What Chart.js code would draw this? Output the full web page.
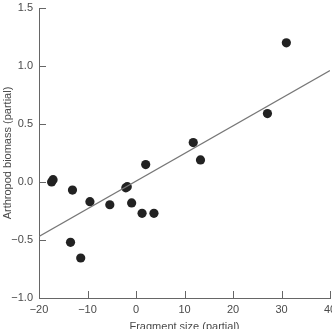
<!DOCTYPE html>
<html><head><meta charset="utf-8">
<script src="https://cdn.jsdelivr.net/npm/chart.js@4.4.1/dist/chart.umd.min.js"></script>
<style>html,body{margin:0;padding:0;overflow:hidden;background:#fff;width:332px;height:329px}canvas{display:block}</style>
</head><body><canvas id="c" width="345" height="334" style="width:345px;height:334px"></canvas>
<script>
const fragmentSize = [-17.4, -17.1, -13.1, -13.5, -11.4, -9.5, -5.4, -2.1, -1.8, -0.9, 1.25, 2.0, 3.7, 11.8, 13.3, 27.1, 31.0];
const arthropodBiomass = [0.0, 0.02, -0.07, -0.52, -0.655, -0.17, -0.196, -0.05, -0.04, -0.18, -0.27, 0.15, -0.27, 0.34, 0.19, 0.59, 1.2];
const fitLineX = [-20, 40];
const fitLineY = [-0.47, 0.96];
const xTicks = [-20, -10, 0, 10, 20, 30, 40];
const yTicks = [-1.0, -0.5, 0.0, 0.5, 1.0, 1.5];
const xTitle = 'Fragment size (partial)';
const yTitle = 'Arthropod biomass (partial)';

const FONT = {family: '"Liberation Sans", Arial, Helvetica, sans-serif', size: 11};
const TXT = '#4a4a4a';
const AX = '#666';

const inwardTicks = {
  id: 'inwardTicks',
  afterDraw(chart) {
    const ctx = chart.ctx, a = chart.chartArea;
    ctx.save();
    ctx.strokeStyle = AX; ctx.lineWidth = 1;
    ctx.beginPath();
    chart.scales.x.ticks.forEach(t => {
      const px = Math.round(chart.scales.x.getPixelForValue(t.value)) + 0.5;
      ctx.moveTo(px, a.bottom); ctx.lineTo(px, a.bottom - 7);
    });
    chart.scales.y.ticks.forEach(t => {
      const py = Math.round(chart.scales.y.getPixelForValue(t.value)) + 0.5;
      ctx.moveTo(a.left, py); ctx.lineTo(a.left + 7, py);
    });
    ctx.stroke();
    ctx.restore();
  }
};

const fmtX = v => (v < 0 ? '\u2212' : '') + Math.abs(v);
const fmtY = v => (v < 0 ? '\u2212' : '') + Math.abs(v).toFixed(1);

new Chart(document.getElementById('c'), {
  type: 'scatter',
  data: {
    datasets: [
      {
        type: 'line',
        data: fitLineX.map((x, i) => ({x, y: fitLineY[i]})),
        borderColor: '#777', borderWidth: 1.2, pointRadius: 0, fill: false
      },
      {
        data: fragmentSize.map((x, i) => ({x, y: arthropodBiomass[i]})),
        backgroundColor: '#222', borderWidth: 0, pointRadius: 4.6, pointHoverRadius: 4.6
      }
    ]
  },
  options: {
    responsive: false, animation: false,
    layout: {padding: {top: 8, right: 15, left: 0, bottom: 0}},
    plugins: {legend: {display: false}, tooltip: {enabled: false}},
    scales: {
      x: {
        type: 'linear', min: -20, max: 40,
        afterBuildTicks: s => { s.ticks = xTicks.map(v => ({value: v})); },
        afterFit: s => { s.height = 36; },
        grid: {display: false, drawTicks: false},
        border: {display: true, color: AX, width: 1},
        ticks: {color: TXT, font: FONT, padding: 5, maxRotation: 0, callback: v => fmtX(v)},
        title: {display: true, text: xTitle, color: TXT, font: FONT, padding: {top: 0, bottom: 0}}
      },
      y: {
        type: 'linear', min: -1.0, max: 1.5,
        afterBuildTicks: s => { s.ticks = yTicks.map(v => ({value: v})); },
        afterFit: s => { s.width = 39; s.paddingTop = 0; s.paddingBottom = 0; },
        grid: {display: false, drawTicks: false},
        border: {display: true, color: AX, width: 1},
        ticks: {color: TXT, font: FONT, padding: 6, callback: v => fmtY(v)},
        title: {display: true, text: yTitle, color: TXT, font: FONT, padding: {top: 1, bottom: 0}}
      }
    }
  },
  plugins: [inwardTicks]
});
</script></body></html>
